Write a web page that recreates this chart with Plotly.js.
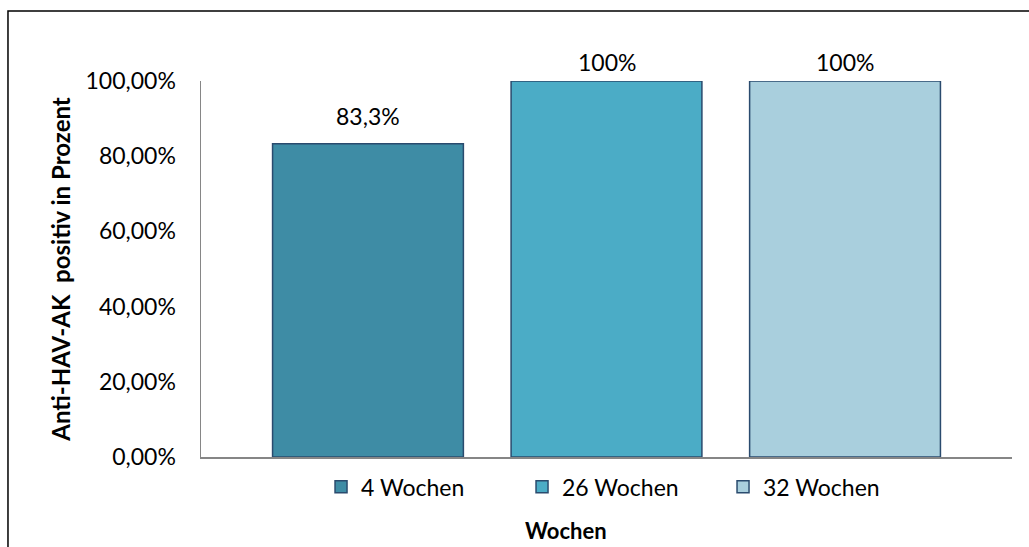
<!DOCTYPE html>
<html>
<head>
<meta charset="utf-8">
<script src="https://cdn.plot.ly/plotly-3.0.1.min.js"></script>
<style>html,body{margin:0;padding:0;background:#fff;}#chart{width:1029px;height:547px;}</style>
</head>
<body>
<div id="chart"></div>
<script>
const categories = ["4 Wochen", "26 Wochen", "32 Wochen"];
const values = [83.3, 100, 100];
const valueLabels = ["83,3%", "100%", "100%"];
const tickValues = [0, 20, 40, 60, 80, 100];
const tickLabels = ["0,00%", "20,00%", "40,00%", "60,00%", "80,00%", "100,00%"];
const colors = ["#3E8CA5", "#4BACC6", "#A9CFDD"];

const FONT = "Lato, 'Open Sans', sans-serif";
const YMAX = 100;

const traces = categories.map((c, i) => ({
  type: "bar",
  name: c,
  x: [i],
  y: [values[i]],
  width: 0.8,
  marker: {color: colors[i], line: {color: "#2A4B6E", width: 1.5}},
  hoverinfo: "none"
}));

// value labels placed through the axes (Excel keeps labels of full-height bars inside the chart area)
const labelAnnotations = categories.map((c, i) => ({
  x: i, y: values[i], xref: "x", yref: "y",
  text: valueLabels[i], showarrow: false,
  xanchor: "center", yanchor: "bottom",
  yshift: values[i] >= YMAX ? 3 : 12,
  font: {family: FONT, size: 23, color: "#000"}
}));

const layout = {
  width: 1029, height: 547,
  margin: {l: 201, r: 17, t: 81, b: 90},
  paper_bgcolor: "#fff", plot_bgcolor: "#fff",
  barmode: "overlay",
  font: {family: FONT, size: 23, color: "#000"},
  xaxis: {
    range: [-0.7, 2.7], showticklabels: false, showgrid: false, zeroline: false,
    showline: true, linecolor: "#868686", linewidth: 2, ticks: "", fixedrange: true
  },
  yaxis: {
    range: [0, YMAX], tickvals: tickValues, ticktext: tickLabels,
    showgrid: false, zeroline: false, showline: true, linecolor: "#868686", linewidth: 1.5,
    ticks: "", ticklabelstandoff: 19,
    tickfont: {family: FONT, size: 23, color: "#000"},
    title: {text: "Anti-HAV-AK  positiv in Prozent", font: {family: FONT, size: 24, color: "#000", weight: "bold"}, standoff: 8}
  },
  showlegend: true,
  legend: {
    orientation: "h", x: 0.148, y: -0.022, xanchor: "left", yanchor: "top",
    font: {family: FONT, size: 23, color: "#000"},
    traceorder: "normal", itemwidth: 30, entrywidth: 156, entrywidthmode: "pixels"
  },
  annotations: labelAnnotations.concat([{
    text: "<b>Wochen</b>", xref: "paper", yref: "paper", x: 0.45, y: -0.195,
    xanchor: "center", yanchor: "middle", showarrow: false,
    font: {family: FONT, size: 22, color: "#000"}
  }]),
  shapes: [{
    type: "rect", xref: "paper", yref: "paper",
    x0: -0.238, y0: -0.5, x1: 1.5, y1: 1.186,
    line: {color: "#000", width: 1.5}, fillcolor: "rgba(0,0,0,0)", layer: "above"
  }]
};

Plotly.newPlot("chart", traces, layout, {displayModeBar: false, staticPlot: true});
</script>
</body>
</html>
